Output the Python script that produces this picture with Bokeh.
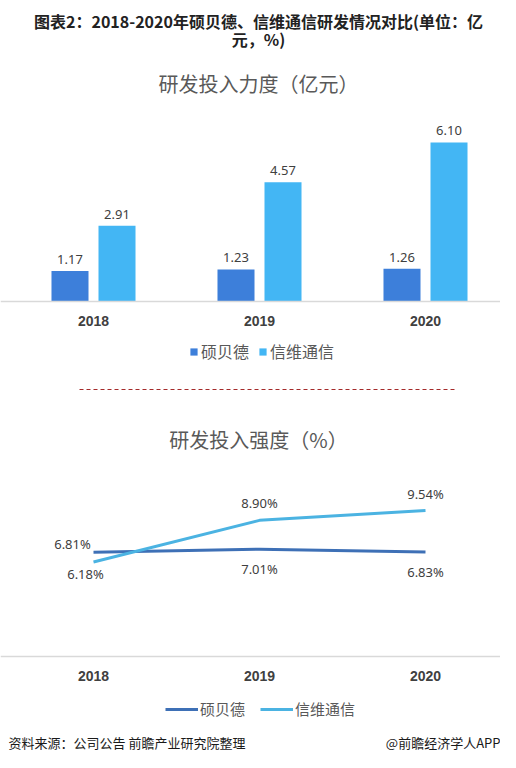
from bokeh.plotting import figure
from bokeh.models import (Range1d, ColumnDataSource, Legend, LegendItem,
                          Label, Arrow, LinearAxis, FixedTicker)
from bokeh.transform import dodge
from bokeh.embed import file_html
from bokeh.resources import INLINE
from bokeh.core.properties import value

# ---------------- data ----------------
years = ["2018", "2019", "2020"]
series_names = ["硕贝德", "信维通信"]
rd_spend_sbd = [1.17, 1.23, 1.26]      # 研发投入力度（亿元）
rd_spend_xw = [2.91, 4.57, 6.10]
rd_ratio_sbd = [6.81, 7.01, 6.83]      # 研发投入强度（%）
rd_ratio_xw = [6.18, 8.90, 9.54]

main_title_1 = "图表2：2018-2020年硕贝德、信维通信研发情况对比(单位：亿"
main_title_2 = "元，%)"
bar_title = "研发投入力度（亿元）"
line_title = "研发投入强度（%）"
source_note = "资料来源：公司公告 前瞻产业研究院整理"
brand_note = "@前瞻经济学人APP"

# ---------------- style ----------------
W, H = 500, 752
CJK = "Noto Sans CJK SC"
NUM = "Noto Sans"
C_SBD_BAR = "#3d7fda"
C_XW_BAR = "#43b6f4"
C_SBD_LINE = "#3e70b6"
C_XW_LINE = "#4bb3e2"
TXT = "#404040"

# label offsets (pixels) for the line chart value labels
lbl_dx_sbd = [-21, 0, 0]
lbl_dy_sbd = [-8, 20, 20]
lbl_dx_xw = [-8, 0, 0]
lbl_dy_xw = [12, -17, -17]


def sx(px):   # picture x -> frame screen x
    return px


def sy(py):   # picture y -> frame screen y (measured from bottom)
    return H - py


# layout of the scales (pixels)
cat_px, cat_first = 166, 93          # category spacing and first category centre
bar_px, bar_base = 26.07, 301        # px per 亿元, zero line
pct_px, pct_base = 15.3, 656         # px per %, zero line

idx = list(range(len(years)))
p = figure(width=W, height=H,
           x_range=Range1d(-cat_first / cat_px, (W - cat_first) / cat_px),
           y_range=Range1d(-(H - bar_base) / bar_px, bar_base / bar_px),
           output_backend="svg", toolbar_location=None,
           x_axis_location=None, y_axis_location=None, min_border=0)
p.extra_y_ranges = {"pct": Range1d(-(H - pct_base) / pct_px, pct_base / pct_px)}
p.grid.visible = False
p.outline_line_color = None
p.background_fill_color = "white"

# ---------------- bars ----------------
src1 = ColumnDataSource(dict(
    x=idx, sbd=rd_spend_sbd, xw=rd_spend_xw,
    sbd_lbl=[f"{v:.2f}" for v in rd_spend_sbd],
    xw_lbl=[f"{v:.2f}" for v in rd_spend_xw],
))
off = 0.1416
bw = 0.223
r1 = p.vbar(x=dodge("x", -off), top="sbd", width=bw, source=src1,
            fill_color=C_SBD_BAR, line_color=None)
r2 = p.vbar(x=dodge("x", off), top="xw", width=bw, source=src1,
            fill_color=C_XW_BAR, line_color=None)
for col, lbl, d in (("sbd", "sbd_lbl", -off), ("xw", "xw_lbl", off)):
    p.text(x=dodge("x", d), y=col, text=lbl, source=src1,
           text_align="center", text_baseline="bottom", y_offset=-7,
           text_font=value(NUM), text_font_size="13px", text_color=TXT)

# ---------------- lines ----------------
src2 = ColumnDataSource(dict(
    x=idx, sbd=rd_ratio_sbd, xw=rd_ratio_xw,
    sbd_lbl=[f"{v:.2f}%" for v in rd_ratio_sbd],
    xw_lbl=[f"{v:.2f}%" for v in rd_ratio_xw],
    sbd_dx=lbl_dx_sbd, sbd_dy=lbl_dy_sbd, xw_dx=lbl_dx_xw, xw_dy=lbl_dy_xw,
))
l1 = p.line(x="x", y="sbd", source=src2, y_range_name="pct",
            line_color=C_SBD_LINE, line_width=3)
l2 = p.line(x="x", y="xw", source=src2, y_range_name="pct",
            line_color=C_XW_LINE, line_width=3)
for col, lbl, dx, dy in (("sbd", "sbd_lbl", "sbd_dx", "sbd_dy"),
                         ("xw", "xw_lbl", "xw_dx", "xw_dy")):
    p.text(x="x", y=col, text=lbl, source=src2, y_range_name="pct",
           x_offset=dx, y_offset=dy, text_align="center", text_baseline="middle",
           text_font=value(NUM), text_font_size="13px", text_color=TXT)


# ---------------- axes (fixed at each chart's zero line) ----------------
def make_axis(range_name):
    kw = dict(fixed_location=0, ticker=FixedTicker(ticks=idx),
              major_label_overrides={i: y for i, y in zip(idx, years)})
    if range_name:
        kw["y_range_name"] = range_name
    ax = LinearAxis(**kw)
    ax.axis_line_color = "#d9d9d9"
    ax.axis_line_width = 1.5
    ax.major_tick_line_color = None
    ax.minor_tick_line_color = None
    ax.major_tick_out = 0
    ax.major_label_text_font = "Liberation Sans"
    ax.major_label_text_font_size = "14px"
    ax.major_label_text_font_style = "bold"
    ax.major_label_text_color = TXT
    ax.major_label_standoff = 14
    return ax


p.add_layout(make_axis(None), "below")
p.add_layout(make_axis("pct"), "below")

# ---------------- legends ----------------
leg1 = Legend(items=[LegendItem(label=series_names[0], renderers=[r1]),
                     LegendItem(label=series_names[1], renderers=[r2])],
              orientation="horizontal", location=(sx(189), sy(363)),
              label_text_font=CJK, label_text_font_size="16px", label_text_color="#595959",
              glyph_width=9, glyph_height=9, label_standoff=3, spacing=9,
              border_line_color=None, background_fill_alpha=0, padding=0, margin=0)
leg2 = Legend(items=[LegendItem(label=series_names[0], renderers=[l1]),
                     LegendItem(label=series_names[1], renderers=[l2])],
              orientation="horizontal", location=(sx(165), sy(719)),
              label_text_font=CJK, label_text_font_size="15px", label_text_color="#595959",
              glyph_width=33, glyph_height=12, label_standoff=2, spacing=15,
              border_line_color=None, background_fill_alpha=0, padding=0, margin=0)
p.add_layout(leg1)
p.add_layout(leg2)

# ---------------- titles, separator, footer ----------------
title_kw = dict(x_units="screen", y_units="screen", text_align="center",
                text_baseline="middle", text_font=CJK)
p.add_layout(Label(x=sx(258), y=sy(20), text=main_title_1, text_font_size="16px",
                   text_font_style="bold", text_color="#222222", **title_kw))
p.add_layout(Label(x=sx(258), y=sy(38), text=main_title_2, text_font_size="16px",
                   text_font_style="bold", text_color="#222222", **title_kw))
p.add_layout(Label(x=sx(258), y=sy(83), text=bar_title, text_font_size="20px",
                   text_color="#595959", **title_kw))
p.add_layout(Label(x=sx(258), y=sy(439), text=line_title, text_font_size="20px",
                   text_color="#595959", **title_kw))
p.add_layout(Arrow(start=None, end=None, start_units="screen", end_units="screen",
                   x_start=sx(79), y_start=sy(389), x_end=sx(455), y_end=sy(389),
                   line_color="#a52a2a", line_width=1, line_dash="4 3"))
p.add_layout(Label(x=sx(8), y=sy(742), text=source_note, x_units="screen", y_units="screen",
                   text_align="left", text_baseline="middle", text_font=CJK,
                   text_font_size="13px", text_color="#1a1a1a"))
p.add_layout(Label(x=sx(500), y=sy(742), text=brand_note, x_units="screen", y_units="screen",
                   text_align="right", text_baseline="middle", text_font=CJK,
                   text_font_size="13px", text_color="#1a1a1a"))

open("out.html", "w").write(file_html(p, INLINE))
